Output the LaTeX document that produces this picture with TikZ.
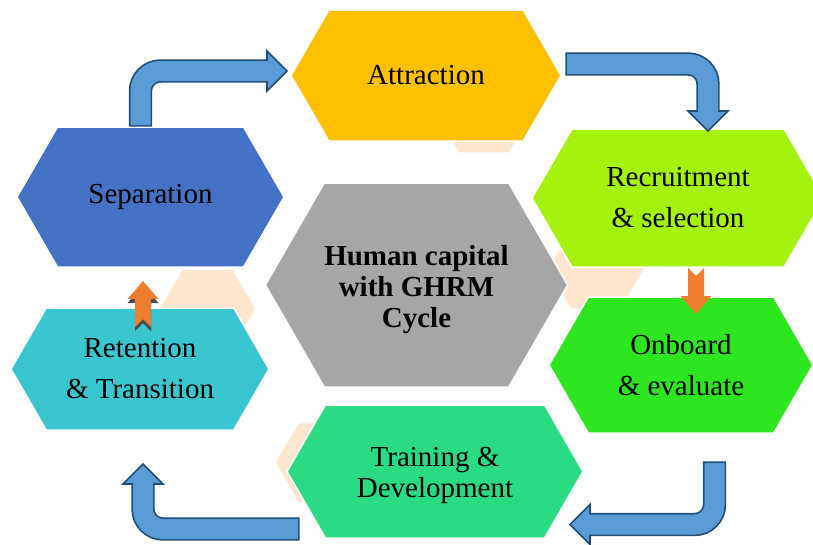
\documentclass[tikz,border=0pt]{standalone}
\usepackage{fontspec}
\setmainfont{Liberation Serif}
\usetikzlibrary{shapes.symbols,calc}

\definecolor{attrc}{HTML}{FFC000}
\definecolor{recrc}{HTML}{A6F20F}
\definecolor{onbc}{HTML}{2EE620}
\definecolor{trainc}{HTML}{2ADB84}
\definecolor{retc}{HTML}{3AC6D0}
\definecolor{sepc}{HTML}{4472C4}
\definecolor{hubc}{HTML}{A6A6A6}
\definecolor{peachc}{HTML}{FFE6CE}
\definecolor{arrfill}{HTML}{5B9BD5}
\definecolor{arrline}{HTML}{1F4E79}
\definecolor{orgc}{HTML}{F07E2F}
\definecolor{shadowc}{HTML}{454E52}

\tikzset{
  hexa/.style={signal, signal to=east and west, signal pointer angle=120,
    draw=white, line width=1.5pt, inner sep=0pt, outer sep=0pt, align=center,
    font=\fontsize{29}{41}\selectfont},
  tight/.style={font=\fontsize{29}{31}\selectfont},
  peach/.style={hexa, fill=peachc, minimum width=97pt, minimum height=80pt},
  shaftout/.style={draw=arrline, line width=23.4pt, rounded corners=20pt, shorten <=-1.7pt},
  shaftin/.style={draw=arrfill, line width=20pt, rounded corners=20pt},
  bhead/.style={fill=arrfill, draw=arrline, line width=1.7pt, line join=miter},
}

\newcommand{\bluehead}[2]{\filldraw[bhead, shift={(#1)}, rotate=#2]
  (0,-10) -- (0,-20) -- (20,0) -- (0,20) -- (0,10);}
\newcommand{\orgarrow}[3]{\fill[#1, shift={(#2)}, rotate=#3]
  (0,-8) -- (28,-8) -- (28,-15.5) -- (46,0) -- (28,15.5) -- (28,8) -- (0,8) -- (8,0) -- cycle;}

\begin{document}
\begin{tikzpicture}[x=1pt,y=-1pt]
\useasboundingbox (0,0) rectangle (813,544);

% light hexagons in the back
\node[peach] (bg1) at (484,113) {};
\node[peach] (bg2) at (207.5,309) {};
\node[peach] (bg3) at (596,269) {};
\node[peach] (bg4) at (323.5,462.5) {};

% the cycle
\node[hexa,fill=attrc,minimum width=270pt,minimum height=131pt] (attr) at (426,75.5) {Attraction};
\node[hexa,fill=recrc,minimum width=292pt,minimum height=138pt] (recr) at (678,198) {Recruitment\\\& selection};
\node[hexa,fill=onbc,minimum width=264pt,minimum height=136pt] (onb) at (681,365) {Onboard\\\& evaluate};
\node[hexa,tight,fill=trainc,minimum width=296pt,minimum height=133pt] (train) at (435,471.5) {\rule{0pt}{28pt}Training \&\\Development};
\node[hexa,fill=retc,minimum width=258pt,minimum height=122pt] (ret) at (140,369) {Retention\\\& Transition};
\node[hexa,fill=sepc,minimum width=267pt,minimum height=140pt] (sep) at (150.5,197) {Separation};
\node[hexa,tight,fill=hubc,minimum width=293pt,minimum height=204pt,font=\fontsize{29}{31}\selectfont\bfseries] (hub) at (416.5,285) {\rule{0pt}{30pt}Human capital\\with GHRM\\Cycle};

% bent arrows
\coordinate (hA) at ($(attr.west)+(-24,-4.5)$);
\coordinate (hB) at ($(recr.north)+(30,-18)$);
\coordinate (hC) at ($(train.east)+(7,53)$);
\coordinate (hD) at ($(ret.south)+(3,54)$);

\draw[shaftout] ($(sep.north)+(-10,-2)$) |- (hA);
\draw[shaftin] ($(sep.north)+(-10,-2)$) |- (hA);
\bluehead{hA}{0}
\draw[shaftout] ($(attr.east)+(6,-11.5)$) -| (hB);
\draw[shaftin] ($(attr.east)+(6,-11.5)$) -| (hB);
\bluehead{hB}{270}
\draw[shaftout] ($(onb.south)+(33.5,30)$) |- (hC);
\draw[shaftin] ($(onb.south)+(33.5,30)$) |- (hC);
\bluehead{hC}{180}
\draw[shaftout] ($(train.west)+(11,57.5)$) -| (hD);
\draw[shaftin] ($(train.west)+(11,57.5)$) -| (hD);
\bluehead{hD}{90}

% small arrows
\orgarrow{fill=shadowc}{$(ret.north)+(3,23)$}{90}
\orgarrow{fill=orgc}{$(ret.north)+(3,19)$}{90}
\orgarrow{fill=orgc}{$(recr.south)+(18,1)$}{270}

\end{tikzpicture}
\end{document}
